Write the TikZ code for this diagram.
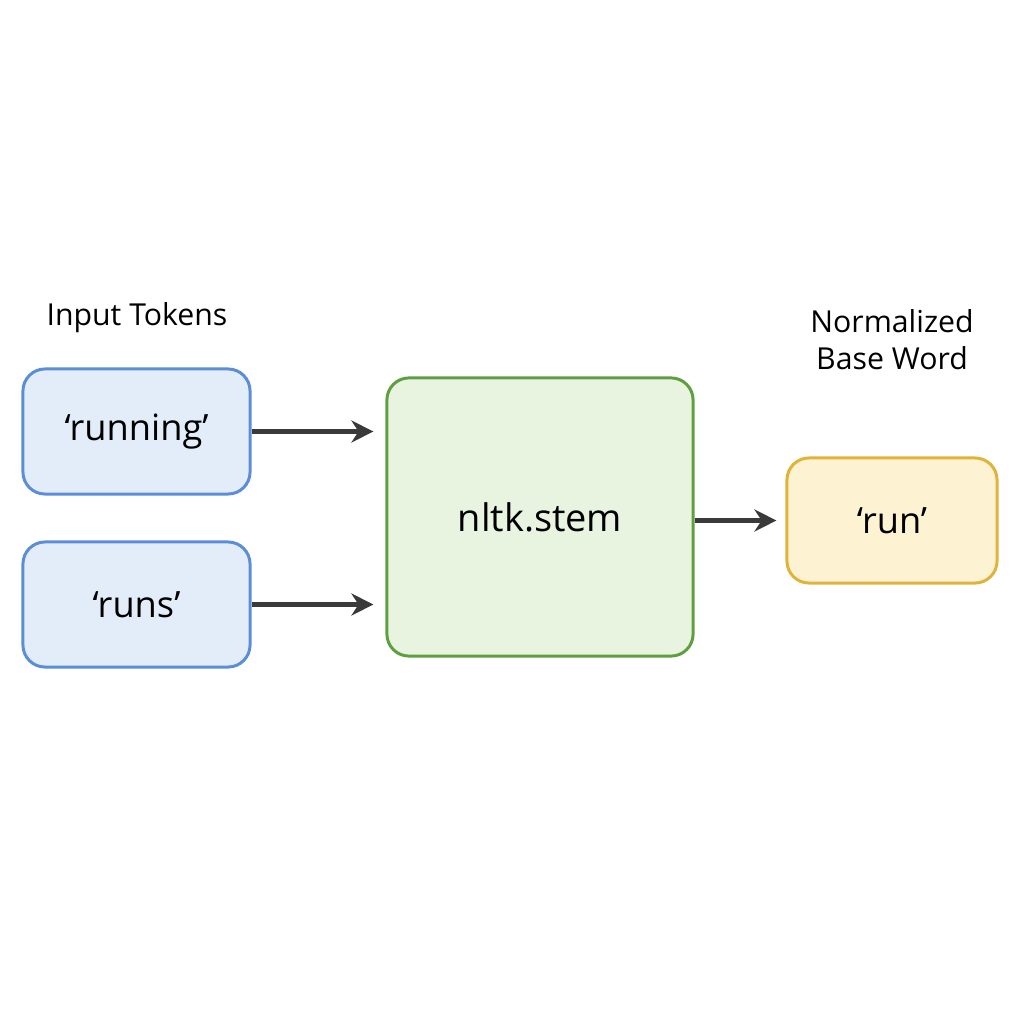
\documentclass[tikz,border=0pt]{standalone}
\usepackage{fontspec}
\setmainfont{Open Sans}
\usetikzlibrary{arrows.meta}
\definecolor{bfill}{HTML}{E3EDF9}\definecolor{bdraw}{HTML}{5B8ED6}
\definecolor{gfill}{HTML}{E8F3E0}\definecolor{gdraw}{HTML}{5EA040}
\definecolor{yfill}{HTML}{FDF3D3}\definecolor{ydraw}{HTML}{E0B43A}
\definecolor{arr}{HTML}{3A3A3A}
\begin{document}
\begin{tikzpicture}[x=0.01cm,y=-0.01cm,
 box/.style={rounded corners=0.22cm,line width=0.85pt,inner sep=0pt,font=\fontsize{10.3pt}{12pt}\selectfont},
 lab/.style={font=\fontsize{8.6pt}{10.6pt}\selectfont,align=center},
 conn/.style={arr,line width=1.2pt,-{Stealth[length=0.22cm,width=0.22cm]}}]
\useasboundingbox (0,0) rectangle (1024,1024);
\node[box,fill=bfill,draw=bdraw,minimum width=2.27cm,minimum height=1.25cm] (a) at (136.5,431.5) {‘running’};
\node[box,fill=bfill,draw=bdraw,minimum width=2.27cm,minimum height=1.25cm] (b) at (136.5,604.5) {‘runs’};
\node[box,fill=gfill,draw=gdraw,minimum width=3.06cm,minimum height=2.78cm,font=\fontsize{10.8pt}{13pt}\selectfont] (s) at (540,517) {nltk.stem};
\node[box,fill=yfill,draw=ydraw,minimum width=2.10cm,minimum height=1.25cm] (r) at (892,520.5) {‘run’};
\node[lab] (la) at (137,318) {Input Tokens};
\node[lab] (lr) at (892,340) {Normalized\\Base Word};
\draw[conn,shorten >=0.12cm] (a.east) -- (s.west |- a.east);
\draw[conn,shorten >=0.12cm] (b.east) -- (s.west |- b.east);
\draw[conn,shorten >=0.09cm] (s.east |- r.west) -- (r.west);
\end{tikzpicture}
\end{document}
